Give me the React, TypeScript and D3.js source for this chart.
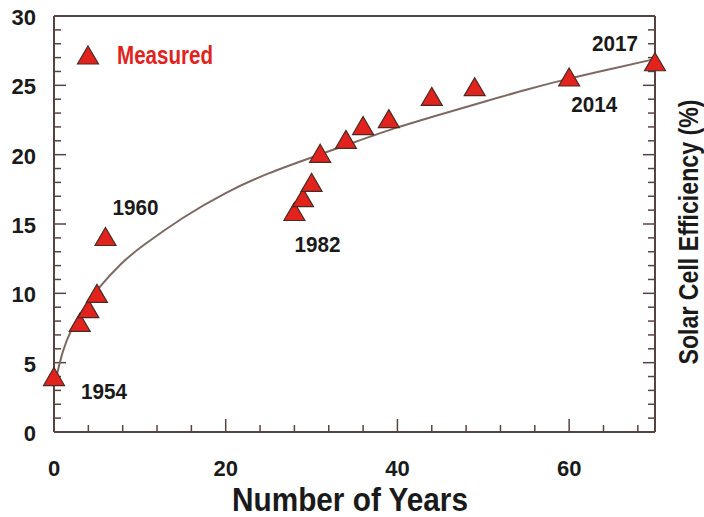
import React from "react";
import * as d3 from "d3";

// Measured cell efficiencies: years since 1954 and efficiency (%)
const years = [0, 3, 4, 5, 6, 28, 29, 30, 31, 34, 36, 39, 44, 49, 60, 70];
const efficiency = [4.0, 7.9, 8.9, 10.0, 14.1, 15.9, 16.9, 18.0, 20.1, 21.1, 22.1, 22.6, 24.2, 24.9, 25.6, 26.7];

// Trend curve through the measurements
const trendYears = [0.3, 1, 2, 3, 5, 8, 10, 15, 20, 25, 30, 35, 40, 45, 50, 55, 60, 65, 70];
const trendEff = [4.0, 5.9, 7.4, 8.5, 10.3, 12.3, 13.3, 15.5, 17.3, 18.7, 19.8, 20.9, 22.0, 22.9, 23.8, 24.7, 25.5, 26.2, 26.9];

// Year annotations
const annotationYears = [0, 6, 28, 60, 70];
const annotationLabels = ["1954", "1960", "1982", "2014", "2017"];

const xTickLabels = [0, 20, 40, 60];
const yTickLabels = [0, 5, 10, 15, 20, 25, 30];

const W = 704;
const H = 517;
const left = 54;
const right = 655;
const top = 16;
const bottom = 432;

const AXIS = "#574440";
const CURVE = "#7f6862";
const RED = "#e2231d";
const OUTLINE = "#4a2a22";
const FONT = "'Liberation Sans', Arial, Helvetica, sans-serif";

const tri = (w: number, h: number) => `M0,${-h / 2}L${w / 2},${h / 2}L${-w / 2},${h / 2}Z`;

// label offsets relative to each annotated point
const annotationOffsets: Record<string, [number, number]> = {
  "1954": [27, 22],
  "1960": [7, -21],
  "1982": [0, 40],
  "2014": [2, 35],
  "2017": [-63, -11],
};

export default function App() {
  const x = d3.scaleLinear().domain([0, 70]).range([left, right]);
  const y = d3.scaleLinear().domain([0, 30]).range([bottom, top]);

  const line = d3
    .line<number>()
    .x((_, i) => x(trendYears[i]))
    .y((d) => y(d))
    .curve(d3.curveBasis);

  const xMinor = d3.range(0, 70, 4);
  const yMinor = d3.range(0, 30, 1);
  const triPath = tri(21, 18);

  return (
    <svg
      width={W}
      height={H}
      style={{ position: "absolute", left: 0, top: 0, background: "#fff" }}
    >
      {/* frame */}
      <g stroke={AXIS} fill="none" strokeWidth={2}>
        <line x1={left} x2={right} y1={bottom} y2={bottom} />
        <line x1={left} x2={right} y1={top} y2={top} />
        <line x1={left} x2={left} y1={top} y2={bottom} />
        <line x1={right} x2={right} y1={top} y2={bottom} />
      </g>

      {/* ticks pointing inward */}
      <g stroke={AXIS} strokeWidth={1.5}>
        {xMinor.map((v) => {
          const major = v % 20 === 0;
          return (
            <line key={"xt" + v} x1={x(v)} x2={x(v)} y1={bottom} y2={bottom - (major ? 13 : 7)} />
          );
        })}
        {yMinor.map((v) => {
          const major = v % 5 === 0;
          const len = major ? 12 : 7;
          return (
            <g key={"yt" + v}>
              <line x1={left} x2={left + len} y1={y(v)} y2={y(v)} />
              <line x1={right} x2={right - len} y1={y(v)} y2={y(v)} />
            </g>
          );
        })}
      </g>

      {/* tick labels */}
      <g fontFamily={FONT} fontWeight="bold" fontSize={22} fill="#1a1a1a">
        {xTickLabels.map((v) => (
          <text key={"xl" + v} x={x(v)} y={bottom + 44} textAnchor="middle">
            {v}
          </text>
        ))}
        {yTickLabels.map((v) => (
          <text key={"yl" + v} x={left - 18} y={y(v) + 9} textAnchor="end">
            {v}
          </text>
        ))}
      </g>

      {/* axis titles */}
      <text
        x={350}
        y={511}
        textAnchor="middle"
        fontFamily={FONT}
        fontWeight="bold"
        fontSize={34}
        fill="#1a1a1a"
        textLength={236}
        lengthAdjust="spacingAndGlyphs"
      >
        Number of Years
      </text>
      <text
        transform={`translate(${698},${232}) rotate(-90)`}
        textAnchor="middle"
        fontFamily={FONT}
        fontWeight="bold"
        fontSize={28}
        fill="#1a1a1a"
        textLength={265}
        lengthAdjust="spacingAndGlyphs"
      >
        Solar Cell Efficiency (%)
      </text>

      {/* trend curve */}
      <path d={line(trendEff) ?? ""} fill="none" stroke={CURVE} strokeWidth={2} />

      {/* measurements */}
      {years.map((yr, i) => (
        <path
          key={"m" + i}
          d={triPath}
          transform={`translate(${x(yr)},${y(efficiency[i])})`}
          fill={RED}
          stroke={OUTLINE}
          strokeWidth={1.2}
        />
      ))}

      {/* year annotations */}
      <g fontFamily={FONT} fontWeight="bold" fontSize={22} fill="#1a1a1a">
        {annotationLabels.map((lab, i) => {
          const yr = annotationYears[i];
          const idx = years.indexOf(yr);
          const [dx, dy] = annotationOffsets[lab];
          return (
            <text
              key={lab}
              x={x(yr) + dx}
              y={y(efficiency[idx]) + dy}
              textLength={46}
              lengthAdjust="spacingAndGlyphs"
            >
              {lab}
            </text>
          );
        })}
      </g>

      {/* legend */}
      <path d={triPath} transform="translate(88,55)" fill={RED} stroke={OUTLINE} strokeWidth={1.2} />
      <text
        x={117}
        y={64}
        fontFamily={FONT}
        fontWeight="bold"
        fontSize={25}
        fill={RED}
        textLength={96}
        lengthAdjust="spacingAndGlyphs"
      >
        Measured
      </text>
    </svg>
  );
}
